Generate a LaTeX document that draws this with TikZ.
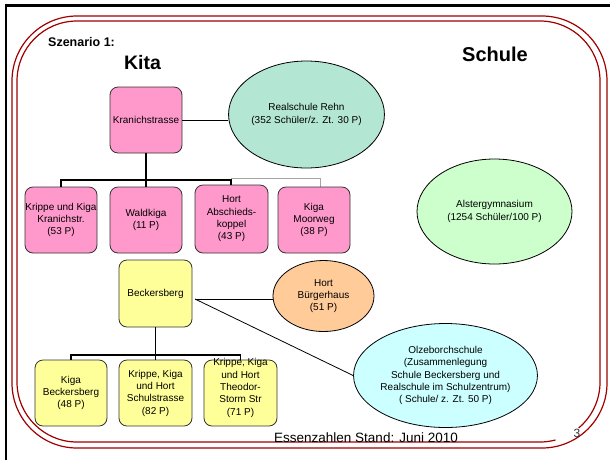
\documentclass[tikz,border=0pt]{standalone}
\usepackage{fontspec}
\setmainfont{Liberation Sans}
\usetikzlibrary{shapes.geometric}
\definecolor{pinkc}{HTML}{FF99CC}
\definecolor{yellowc}{HTML}{FFFF99}
\definecolor{mintc}{HTML}{B4E6D4}
\definecolor{greenc}{HTML}{CCFFCC}
\definecolor{cyanc}{HTML}{CCFFFF}
\definecolor{peachc}{HTML}{FFCC99}
\definecolor{framered}{HTML}{A00000}
\definecolor{boxline}{HTML}{333333}
\tikzset{
  txt/.style={font=\fontsize{10}{12.3}\selectfont, align=center, inner sep=0pt},
  pinkbox/.style={txt, draw=boxline, line width=0.8pt, fill=pinkc, rounded corners=8pt, minimum width=72pt, minimum height=66pt},
  yellowbox/.style={txt, draw=boxline, line width=0.8pt, fill=yellowc, rounded corners=8pt, minimum width=73pt, minimum height=66pt},
  oval/.style={txt, ellipse, draw=black, line width=0.8pt},
  tree/.style={draw=black, line width=1.8pt},
  graylink/.style={draw=gray!70, line width=1pt},
  thinlink/.style={draw=black, line width=0.8pt},
  redline/.style={draw=framered, line width=1.2pt},
}
\begin{document}
\begin{tikzpicture}[x=1pt,y=-1pt]
\useasboundingbox[fill=white] (0,0) rectangle (610,459);
% black frame
\draw[line width=2.5pt] (6,470) -- (6,5.5) -- (620,5.5);
% red double border
\draw[redline, rounded corners=65pt] (12,16) rectangle (607,448);
\draw[redline] (578.6,428) arc[start angle=50, end angle=0, radius=60]
  -- (600,81) arc[start angle=0, end angle=-90, radius=60]
  -- (77,21) arc[start angle=-90, end angle=-180, radius=60]
  -- (17,382) arc[start angle=180, end angle=90, radius=60]
  -- (540,442) arc[start angle=90, end angle=75, radius=60];

% titles
\node[anchor=west, inner sep=0pt, font=\fontsize{12.5}{14}\selectfont\bfseries] (szen) at (48,42.5) {Szenario 1:};
\node[inner sep=0pt, font=\fontsize{19.5}{22}\selectfont\bfseries] (kita) at (142.5,63) {Kita};
\node[inner sep=0pt, font=\fontsize{20}{22}\selectfont\bfseries] (schule) at (495,54) {Schule};

% Kita nodes
\node[pinkbox] (kran) at (146,120) {Kranichstrasse};
\node[oval, fill=mintc, minimum width=153pt, minimum height=107pt] (real) at (306.5,114.5) {Realschule Rehn\\(352 Schüler/z. Zt. 30 P)};
\node[oval, fill=greenc, minimum width=155pt, minimum height=105pt] (alster) at (494.5,211.5) {Alstergymnasium\\(1254 Schüler/100 P)};

\coordinate (kbus) at (146,180);
\coordinate (gbus) at (231,178.5);
\draw[graylink] (gbus) -- (320,178.5) -- (320,187);

\node[pinkbox] (b1) at (61,220) {Krippe und Kiga\\Kranichstr.\\(53 P)};
\node[pinkbox] (b2) at (146,220) {Waldkiga\\(11 P)};
\node[pinkbox, minimum width=73pt, minimum height=68pt] (b3) at (231.5,219) {Hort\\Abschieds-\\koppel\\(43 P)};
\node[pinkbox] (b4) at (314,220) {Kiga\\Moorweg\\(38 P)};

\draw[tree] (kran.south) -- (kbus);
\draw[tree] (61,187) -- (61,180) -- (231,180) -- (231,185);
\draw[tree] (kbus) -- (b2.north);
\draw[thinlink] (kran.east) -- (real.west |- kran.east);

% Beckersberg
\node[yellowbox, minimum height=67pt] (beck) at (155.5,293.5) {Beckersberg};
\node[oval, fill=peachc, minimum width=101pt, minimum height=71pt] (hort) at (323.5,296) {Hort\\Bürgerhaus\\(51 P)};
\node[oval, fill=cyanc, minimum width=155pt, minimum height=104pt, font=\fontsize{10}{12.4}\selectfont] (olz) at (445.5,375.5) {Olzeborchschule\\(Zusammenlegung\\Schule Beckersberg und\\Realschule im Schulzentrum)\\( Schule/ z. Zt. 50 P)};

\coordinate (bk) at (195,299);
\draw[thinlink] (bk) -- (hort.west |- bk);
\draw[thinlink] (bk) -- (olz.west);

\node[yellowbox, minimum width=72pt] (ya) at (71,393) {Kiga\\Beckersberg\\(48 P)};
\node[yellowbox] (yb) at (155.5,393) {Krippe, Kiga\\und Hort\\Schulstrasse\\(82 P)};
\node[yellowbox] (yc) at (240.5,393) {};
\node[txt] (yctext) at (240.5,388) {Krippe, Kiga\\und Hort\\Theodor-\\Storm Str\\(71 P)};

\coordinate (ybus) at (155.5,355);
\draw[tree] (beck.south) -- (ybus);
\draw[tree] (ya.north) -- (ya.north |- ybus) -- (yc.north |- ybus) -- (yc.north);
\draw[tree] (ybus) -- (yb.north);

% footer
\node[inner sep=0pt, anchor=west, font=\fontsize{13.5}{15}\selectfont] (foot) at (274,437.5) {Essenzahlen Stand: Juni 2010};
\node[inner sep=0pt, font=\fontsize{12}{14}\selectfont, text=black!80] (pnum) at (577,433) {3};
\end{tikzpicture}
\end{document}
